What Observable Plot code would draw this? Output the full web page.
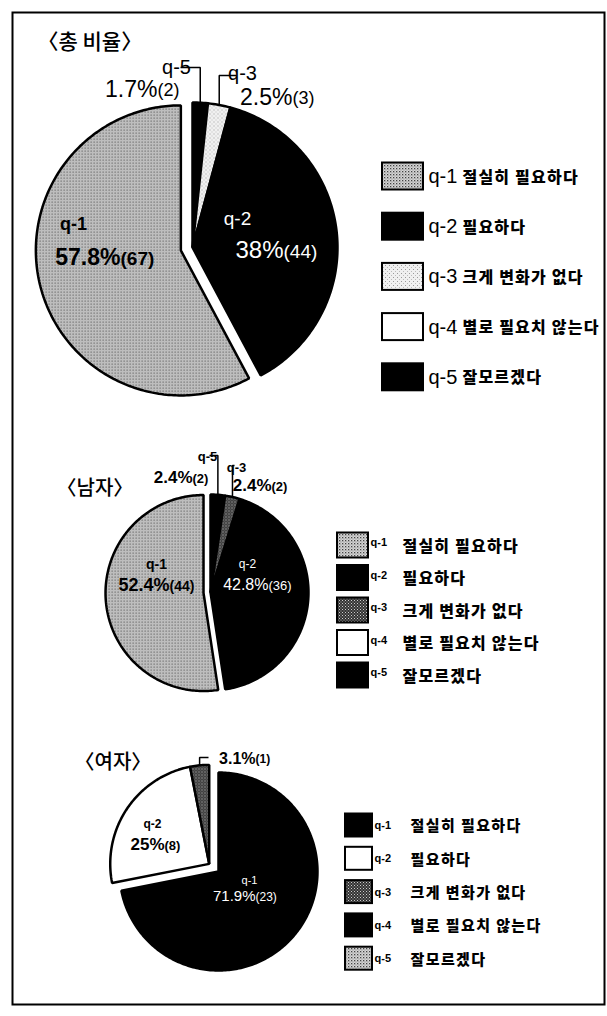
<!DOCTYPE html>
<html><head><meta charset="utf-8">
<script src="https://cdn.jsdelivr.net/npm/d3@7"></script>
<script src="https://cdn.jsdelivr.net/npm/@observablehq/plot@0.6"></script>
<style>html,body{margin:0;padding:0;background:#fff;}</style>
</head><body><div id="chart"></div>
<script>
// ---------- data ----------
const categories = ["q-1", "q-2", "q-3", "q-4", "q-5"];
const descriptions = ["절실히 필요하다", "필요하다", "크게 변화가 없다", "별로 필요치 않는다", "잘모르겠다"];
const chartTitles = ["〈총 비율〉", "〈남자〉", "〈여자〉"];
const totalPct = [57.8, 38, 2.5, 0, 1.7];
const totalCount = [67, 44, 3, 0, 2];
const malePct = [52.4, 42.8, 2.4, 0, 2.4];
const maleCount = [44, 36, 2, 0, 2];
const femalePct = [71.9, 25, 3.1, 0, 0];
const femaleCount = [23, 8, 1, 0, 0];

// ---------- styles ----------
const DOT = "url(#pDot)", SPECK = "url(#pSpeck)", CROSS = "url(#pCross)";
const totalFills = [DOT, "#000", SPECK, "#fff", "#000"];
const maleFills = [DOT, "#000", CROSS, "#fff", "#000"];
const femaleFills = ["#000", "#fff", CROSS, "#000", DOT];

const W = 607, H = 1016;
const LATIN = "'Liberation Sans', Arial, sans-serif";
const KR = "'Noto Sans CJK KR', sans-serif";

// ---------- layout ----------
const pies = [
  {pct: totalPct, cnt: totalCount, fills: totalFills, order: [4, 2, 1, 3, 0], cx: 192, cy: 247, r: 145, explode: [0], dist: 12},
  {pct: malePct, cnt: maleCount, fills: maleFills, order: [4, 2, 1, 3, 0], cx: 210, cy: 592, r: 98, explode: [0], dist: 7},
  {pct: femalePct, cnt: femaleCount, fills: femaleFills, order: [0, 1, 2, 3, 4], cx: 218, cy: 871, r: 99, explode: [1, 2], dist: 12}
];
const titlePos = [{x: 37, y: 42, size: 21}, {x: 56, y: 488, size: 20}, {x: 74, y: 762, size: 20}];
const legends = [
  {boxx: 382, boxw: 41, boxh: 27, y0: 176, dy: 50.2, qx: 428, qsize: 20, qweight: "normal", qdy: 0, descx: 462, descsize: 16, ls: 1.2},
  {boxx: 337, boxw: 31, boxh: 25, y0: 545, dy: 32.5, qx: 370, qsize: 11, qweight: "bold", qdy: -3, descx: 402, descsize: 16, ls: 1.2},
  {boxx: 345, boxw: 27, boxh: 23, y0: 825, dy: 33.3, qx: 374, qsize: 11, qweight: "bold", qdy: 0, descx: 410, descsize: 15, ls: 1.4}
];
// label placement (chart index, category index)
const innerLabels = [
  {c: 0, i: 0, nx: 73, ny: 224, na: "start", ns: 18, px: 120, py: 257, ps: 23, cs: 19, w: "bold", col: "#000"},
  {c: 0, i: 1, nx: 237, ny: 218, na: "start", ns: 19, px: 283, py: 250, ps: 24, cs: 19, w: "normal", col: "#fff"},
  {c: 1, i: 0, nx: 156, ny: 564, na: "middle", ns: 14, px: 169, py: 585, ps: 18, cs: 14, w: "bold", col: "#000"},
  {c: 1, i: 1, nx: 247, ny: 564, na: "middle", ns: 12, px: 268, py: 584, ps: 16, cs: 13, w: "normal", col: "#fff"},
  {c: 2, i: 1, nx: 152, ny: 824, na: "middle", ns: 12, px: 164, py: 844, ps: 17, cs: 13, w: "bold", col: "#000"},
  {c: 2, i: 0, nx: 249, ny: 880, na: "middle", ns: 11, px: 255, py: 896, ps: 15, cs: 12, w: "normal", col: "#fff"}
];
const outerLabels = [
  {c: 0, i: 4, nx: 176, ny: 67, na: "end", ns: 20, px: 157, py: 89, ps: 23, cs: 18, w: "normal", lx: 180, ly: 67},
  {c: 0, i: 2, nx: 242, ny: 73, na: "start", ns: 20, px: 292, py: 97, ps: 23, cs: 18, w: "normal", lx: 236, ly: 75},
  {c: 1, i: 4, nx: 207, ny: 456, na: "end", ns: 13, px: 192, py: 477, ps: 17, cs: 13, w: "bold", lx: 209, ly: 455},
  {c: 1, i: 2, nx: 236, ny: 467, na: "start", ns: 13, px: 271, py: 485, ps: 17, cs: 13, w: "bold", lx: 234, ly: 465},
  {c: 2, i: 2, nx: null, ny: null, na: "start", ns: 13, px: 255, py: 758, ps: 16, cs: 12, w: "bold", lx: 208, ly: 757}
];

// ---------- geometry from data ----------
const rad = d => d * Math.PI / 180;
const sliceRows = [];
const sliceInfo = pies.map((p, c) => {
  const spans = {};
  let a = 0;
  for (const i of p.order) { const s = p.pct[i] / 100 * 360; spans[i] = [a, a + s]; a += s; }
  const ex = p.explode.filter(i => p.pct[i] > 0);
  const a0 = Math.min(...ex.map(i => spans[i][0])), a1 = Math.max(...ex.map(i => spans[i][1]));
  const m = rad((a0 + a1) / 2);
  const ox = p.dist * Math.sin(m), oy = -p.dist * Math.cos(m);
  const centers = {};
  for (const i of p.order) {
    if (p.pct[i] <= 0) continue;
    const isEx = p.explode.includes(i);
    const X = p.cx + (isEx ? ox : 0), Y = p.cy + (isEx ? oy : 0);
    centers[i] = [X, Y];
    const [s, e] = spans[i];
    const key = `${c}-${i}`;
    sliceRows.push({key, x: X, y: Y, fill: p.fills[i]});
    const n = Math.max(2, Math.ceil(e - s));
    for (let k = 0; k <= n; k++) {
      const t = rad(s + (e - s) * k / n);
      sliceRows.push({key, x: X + p.r * Math.sin(t), y: Y - p.r * Math.cos(t), fill: p.fills[i]});
    }
  }
  return {spans, centers};
});

const leaderRows = [];
outerLabels.forEach((L, j) => {
  const p = pies[L.c], info = sliceInfo[L.c];
  const [s, e] = info.spans[L.i];
  const t = rad((s + e) / 2);
  const [X, Y] = info.centers[L.i];
  const ax = X + p.r * Math.sin(t), ay = Y - p.r * Math.cos(t);
  leaderRows.push({key: j, x: ax, y: ay}, {key: j, x: ax, y: L.ly}, {key: j, x: L.lx, y: L.ly});
});

const allLabels = [...innerLabels, ...outerLabels.map(d => ({...d, col: "#000"}))];
const labelRows = allLabels.map(L => ({
  ...L,
  name: categories[L.i],
  pcttext: `${pies[L.c].pct[L.i]}%`,
  cnttext: `(${pies[L.c].cnt[L.i]})`
}));

const legendRows = [];
legends.forEach((g, c) => {
  categories.forEach((cat, i) => {
    const cy = g.y0 + i * g.dy;
    legendRows.push({c, cat, desc: descriptions[i], fill: pies[c].fills[i],
      x1: g.boxx, x2: g.boxx + g.boxw, y1: cy - g.boxh / 2, y2: cy + g.boxh / 2, cy,
      qx: g.qx, qy: cy + g.qdy, qsize: g.qsize, qweight: g.qweight, descx: g.descx, descsize: g.descsize});
  });
});

const titleRows = chartTitles.map((t, c) => ({t, ...titlePos[c]}));

// ---------- text mark helpers ----------
function textMarks(rows, weight, color) {
  const r = rows.filter(d => d.w === weight && d.col === color);
  return [
    Plot.text(r.filter(d => d.nx != null), {x: "nx", y: "ny", text: "name", textAnchor: d => d.na, fontSize: "ns",
      fill: color, fontWeight: weight, fontFamily: LATIN}),
    Plot.text(r, {x: "px", y: "py", text: "pcttext", textAnchor: "end", fontSize: "ps", fill: color, fontWeight: weight, fontFamily: LATIN}),
    Plot.text(r, {x: "px", y: "py", dy: 1, text: "cnttext", textAnchor: "start", fontSize: "cs", fill: color, fontWeight: weight, fontFamily: LATIN})
  ];
}

const svg = Plot.plot({
  width: W, height: H, margin: 0,
  x: {domain: [0, W], range: [0, W], axis: null},
  y: {domain: [0, H], range: [0, H], axis: null},
  color: {type: "identity"},
  style: {background: "#fff"},
  marks: [
    Plot.frame({stroke: "#000", strokeWidth: 2, insetLeft: 12, insetTop: 12, insetRight: 3, insetBottom: 12}),
    Plot.line(sliceRows, {x: "x", y: "y", z: "key", fill: "fill", stroke: "#000", strokeWidth: 2.5, curve: "linear-closed", strokeLinejoin: "miter"}),
    Plot.line(leaderRows, {x: "x", y: "y", z: "key", stroke: "#000", strokeWidth: 1.5, strokeLinejoin: "miter", strokeLinecap: "butt"}),
    ...textMarks(labelRows, "bold", "#000"),
    ...textMarks(labelRows, "normal", "#000"),
    ...textMarks(labelRows, "normal", "#fff"),
    ...textMarks(labelRows, "bold", "#fff"),
    Plot.rect(legendRows, {x1: "x1", x2: "x2", y1: "y1", y2: "y2", fill: "fill", stroke: "#000", strokeWidth: 2}),
    Plot.text(legendRows.filter(d => d.qweight === "normal"), {x: "qx", y: "qy", text: "cat", textAnchor: "start", fontSize: "qsize", fontFamily: LATIN}),
    Plot.text(legendRows.filter(d => d.qweight === "bold"), {x: "qx", y: "qy", text: "cat", textAnchor: "start", fontSize: "qsize", fontWeight: "bold", fontFamily: LATIN}),
    ...legends.map((g, c) => Plot.text(legendRows.filter(d => d.c === c), {x: "descx", y: "cy", dy: 1, text: "desc", textAnchor: "start",
      fontSize: "descsize", fontWeight: 900, fontFamily: KR, ariaDescription: `legend-${c}`})),
    Plot.text(titleRows, {x: "x", y: "y", text: "t", textAnchor: "start", fontSize: "size", fontWeight: 500, fontFamily: KR})
  ]
});

// letter spacing for the legend descriptions
legends.forEach((g, c) => {
  d3.select(svg).selectAll(`g[aria-description="legend-${c}"] text`).style("letter-spacing", `${g.ls}px`);
});

// patterns (scan textures)
const defs = d3.create("svg:defs");
const pDot = defs.append("pattern").attr("id", "pDot").attr("patternUnits", "userSpaceOnUse").attr("width", 3).attr("height", 3);
pDot.append("rect").attr("width", 3).attr("height", 3).attr("fill", "#d6d6d6");
pDot.append("rect").attr("x", 0).attr("y", 0).attr("width", 1.3).attr("height", 1.3).attr("fill", "#444");
pDot.append("rect").attr("x", 1.5).attr("y", 1.5).attr("width", 1).attr("height", 1).attr("fill", "#777");
const pSpeck = defs.append("pattern").attr("id", "pSpeck").attr("patternUnits", "userSpaceOnUse").attr("width", 4).attr("height", 4);
pSpeck.append("rect").attr("width", 4).attr("height", 4).attr("fill", "#f0f0f0");
pSpeck.append("rect").attr("x", 1).attr("y", 1).attr("width", 1).attr("height", 1).attr("fill", "#999");
pSpeck.append("rect").attr("x", 3).attr("y", 3).attr("width", 1).attr("height", 1).attr("fill", "#bbb");
const pCross = defs.append("pattern").attr("id", "pCross").attr("patternUnits", "userSpaceOnUse").attr("width", 3).attr("height", 3);
pCross.append("rect").attr("width", 3).attr("height", 3).attr("fill", "#333");
pCross.append("rect").attr("x", 0).attr("y", 0).attr("width", 1).attr("height", 1).attr("fill", "#ccc");
pCross.append("rect").attr("x", 1.5).attr("y", 1.5).attr("width", 1).attr("height", 1).attr("fill", "#aaa");
svg.insertBefore(defs.node(), svg.firstChild);

document.getElementById("chart").appendChild(svg);
</script>
</body></html>
